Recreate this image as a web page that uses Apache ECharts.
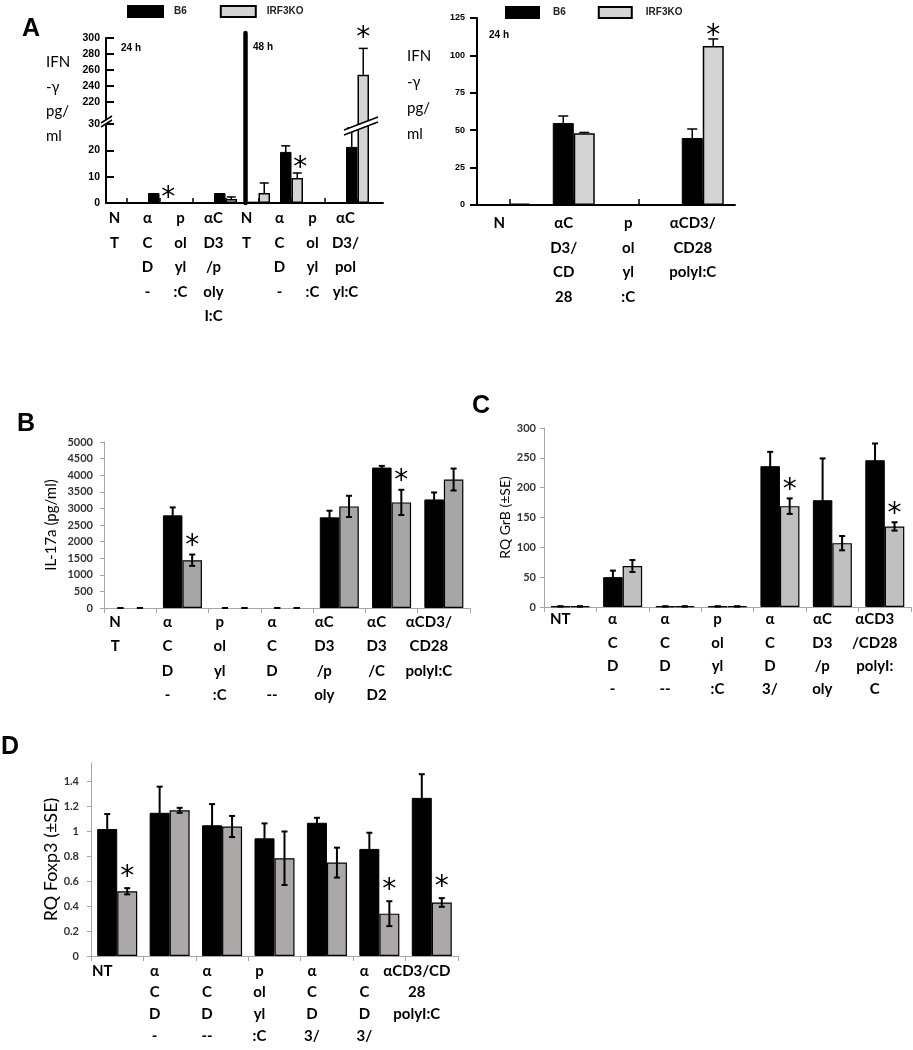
<!DOCTYPE html>
<html>
<head>
<meta charset="utf-8">
<script src="https://cdn.jsdelivr.net/npm/echarts@6.0.0/dist/echarts.min.js"></script>
<style>
  html, body { margin: 0; padding: 0; background: #fff; }
  #chart { width: 913px; height: 1050px; }
</style>
</head>
<body>
<div id="chart"></div>
<script>
// ---- A (left): IFN-γ, 24 h and 48 h ----
const catsA1 = ['N\nT', 'α\nC\nD\n-', 'p\nol\nyl\n:C', 'αC\nD3\n/p\noly\nI:C',
                'N\nT', 'α\nC\nD\n-', 'p\nol\nyl\n:C', 'αC\nD3/\npol\nyl:C'];
const a1B6 = [0, 3.8, 0, 3.8, 0.5, 19.4, 0, 21.3];
const a1B6Err = [0, 0, 0, 0, 0, 2.3, 0, 7.2];
const a1KO = [0, 0, 0, 1.5, 3.8, 9.5, 0, 254];
const a1KOErr = [0, 0, 0, 0.8, 3.8, 1.9, 0, 33];
const a1Star = [0, 1, 0, 0, 0, 1, 0, 1];
const a1LowTicks = [0, 10, 20, 30];
const a1HighTicks = [220, 240, 260, 280, 300];

// ---- A (right): IFN-γ, 24 h ----
const catsA2 = ['N', 'αC\nD3/\nCD\n28', 'p\nol\nyl\n:C', 'αCD3/\nCD28\npolyI:C'];
const a2B6 = [0.5, 54.8, 0, 44.8];
const a2B6Err = [0, 4.7, 0, 6];
const a2KO = [1, 48, 0, 106.3];
const a2KOErr = [0, 0.5, 0, 4.7];
const a2Star = [0, 0, 0, 1];

// ---- B: IL-17a ----
const catsB = ['N\nT', 'α\nC\nD\n-', 'p\nol\nyl\n:C', 'α\nC\nD\n--', 'αC\nD3\n/p\noly', 'αC\nD3\n/C\nD2', 'αCD3/\nCD28\npolyI:C'];
const bB6 = [0, 2790, 0, 0, 2730, 4230, 3270];
const bB6Err = [0, 240, 0, 0, 200, 50, 210];
const bKO = [0, 1440, 0, 0, 3060, 3180, 3870];
const bKOErr = [0, 170, 0, 0, 320, 380, 330];
const bStar = [0, 1, 0, 0, 0, 1, 0];

// ---- C: GrB ----
const catsC = ['NT', 'α\nC\nD\n-', 'α\nC\nD\n--', 'p\nol\nyl\n:C', 'α\nC\nD\n3/', 'αC\nD3\n/p\noly', 'αCD3\n/CD28\npolyI:\nC'];
const cB6 = [1, 50, 1, 1, 236, 179, 246];
const cB6Err = [0, 11, 0, 0, 24, 70, 28];
const cKO = [1, 68.7, 1, 1, 169, 107, 135];
const cKOErr = [0, 10, 0, 0, 13, 12, 7];
const cStar = [0, 0, 0, 0, 1, 0, 1];

// ---- D: Foxp3 ----
const catsD = ['NT', 'α\nC\nD\n-', 'α\nC\nD\n--', 'p\nol\nyl\n:C', 'α\nC\nD\n3/', 'α\nC\nD\n3/', 'αCD3/CD\n28\npolyI:C'];
const dB6 = [1.02, 1.15, 1.05, 0.945, 1.07, 0.86, 1.27];
const dB6Err = [0.12, 0.21, 0.17, 0.12, 0.04, 0.13, 0.19];
const dKO = [0.52, 1.17, 1.04, 0.785, 0.75, 0.34, 0.43];
const dKOErr = [0.025, 0.02, 0.085, 0.215, 0.12, 0.1, 0.035];
const dStar = [1, 0, 0, 0, 0, 1, 1];

const LABEL_FONT = 'Lato, "Noto Sans", sans-serif';
const ARIAL = '"Liberation Sans", Arial, sans-serif';
const A_SPLIT = 192.5; // bottom of the upper (broken) part of panel A

const chart = echarts.init(document.getElementById('chart'));

function bars(name, ax, vals, color, w, bw, keep) {
  return {
    name: name, type: 'bar', xAxisIndex: ax, yAxisIndex: ax,
    barWidth: w, barGap: '0%', clip: true, silent: true,
    data: vals.map(v => (keep ? keep(v) : v !== 0) ? v : '-'),
    itemStyle: { color: color, borderColor: '#000', borderWidth: bw }
  };
}

// error bars (and asterisks) drawn through the axes of grid `ax`
function errBars(ax, vals, errs, stars, o) {
  return {
    type: 'custom', xAxisIndex: ax, yAxisIndex: ax, z: 5, silent: true, clip: false,
    data: vals.map((v, i) => [i, v, errs[i], stars ? stars[i] : 0]),
    renderItem: function (params, api) {
      const i = api.value(0), v = api.value(1), e = api.value(2), s = api.value(3);
      if (o.show && !o.show(v, e)) return null;
      const x = api.coord([i, v])[0] + o.side * o.barW / 2;
      const yTop = api.coord([i, v + e])[1];
      const yBot = api.coord([i, o.both ? v - e : v])[1];
      const st = { stroke: '#000', lineWidth: o.lw };
      const kids = [];
      if (e > 0 || o.both) {
        kids.push({ type: 'line', shape: { x1: x, y1: yTop, x2: x, y2: yBot }, style: st });
        kids.push({ type: 'line', shape: { x1: x - o.cap / 2, y1: yTop, x2: x + o.cap / 2, y2: yTop }, style: st });
        if (o.both) kids.push({ type: 'line', shape: { x1: x - o.cap / 2, y1: yBot, x2: x + o.cap / 2, y2: yBot }, style: st });
      }
      if (s) {
        kids.push({ type: 'text', style: { text: '*', x: x + (o.starDx || 0), y: yTop - o.starGap, align: 'center',
          verticalAlign: 'middle', font: '28px "DejaVu Sans", sans-serif', fill: '#000' } });
      }
      return { type: 'group', children: kids };
    }
  };
}

function catAxis(gi, cats, o) {
  return {
    gridIndex: gi, type: 'category', data: cats, show: o.show !== false,
    axisLine: { show: !!o.lineColor, lineStyle: { color: o.lineColor, width: o.lineWidth || 1 } },
    axisTick: { show: !!o.tickLen, inside: !!o.tickInside, alignWithLabel: !!o.tickInside, length: o.tickLen,
      lineStyle: { color: o.tickColor || '#000', width: o.tickWidth || 1 } },
    axisLabel: { show: !!o.margin, interval: 0, margin: o.margin, lineHeight: o.lh, padding: [0, o.shift || 0, 0, 0],
      fontFamily: LABEL_FONT, fontSize: 15, fontWeight: 'bold', color: '#000' },
    splitLine: { show: false }
  };
}

const plain = v => String(+v.toFixed(2));
const aYLabel = { fontFamily: ARIAL, fontWeight: 'bold', fontSize: 10.5, color: '#000', formatter: plain };
const xlYLabel = { fontFamily: LABEL_FONT, fontWeight: 'bold', fontSize: 11, color: '#333', formatter: plain };
const grey = '#a6a6a6';

const grids = [
  { left: 110, top: 124, width: 264, height: 79 },   // 0 A left, lower part
  { left: 110, top: 38, width: 264, height: 86 },    // 1 A left, upper part
  { left: 106, top: 124, width: 277, height: 79 },   // 2 A left baseline
  { left: 245, top: 33, width: 10, height: 170 },    // 3 48 h axis
  { left: 477, top: 18, width: 258, height: 187 },   // 4 A right
  { left: 104, top: 442, width: 366, height: 166 },  // 5 B
  { left: 544, top: 428, width: 367, height: 179 },  // 6 C
  { left: 91, top: 763, width: 367, height: 193 }    // 7 D
].map(g => Object.assign({ outerBoundsMode: 'none', containLabel: false }, g));

const xAxes = [
  catAxis(0, catsA1, { tickLen: 5, tickInside: true, tickWidth: 1.5, margin: 3, lh: 24.5, shift: 24 }),
  catAxis(1, catsA1, { show: false }),
  catAxis(2, [''], { lineColor: '#000', lineWidth: 2 }),
  { gridIndex: 3, type: 'value', show: false },
  catAxis(4, catsA2, { lineColor: '#000', lineWidth: 2, tickLen: 6, tickInside: true, tickWidth: 1.5, margin: 6, lh: 24.5, shift: 20 }),
  catAxis(5, catsB, { lineColor: grey, tickLen: 5, tickColor: grey, margin: 2, lh: 24.3, shift: 30 }),
  catAxis(6, catsC, { lineColor: grey, tickLen: 5, tickColor: grey, margin: 1, lh: 23.3, shift: 20 }),
  catAxis(7, catsD, { lineColor: grey, tickLen: 5, tickColor: grey, margin: 4, lh: 21.7, shift: 30 })
];

const yAxes = [
  { gridIndex: 0, type: 'value', min: 0, max: 30, offset: 4,
    axisLine: { show: true, lineStyle: { color: '#000', width: 2 } },
    axisTick: { show: true, inside: true, length: 8, lineStyle: { width: 2, color: '#000' }, customValues: a1LowTicks },
    axisLabel: Object.assign({ margin: 6, customValues: a1LowTicks }, aYLabel), splitLine: { show: false } },
  { gridIndex: 1, type: 'value', min: A_SPLIT, max: 300, offset: 4,
    axisLine: { show: true, lineStyle: { color: '#000', width: 2 } },
    axisTick: { show: true, inside: true, length: 8, lineStyle: { width: 2, color: '#000' }, customValues: a1HighTicks },
    axisLabel: Object.assign({ margin: 6, customValues: a1HighTicks }, aYLabel), splitLine: { show: false } },
  { gridIndex: 2, type: 'value', show: false, min: 0, max: 30 },
  { gridIndex: 3, type: 'value', min: 0, max: 1,
    axisLine: { show: true, lineStyle: { color: '#000', width: 4.5 } },
    axisTick: { show: false }, axisLabel: { show: false }, splitLine: { show: false } },
  { gridIndex: 4, type: 'value', min: 0, max: 125, interval: 25,
    axisLine: { show: true, lineStyle: { color: '#000', width: 2 } },
    axisTick: { show: true, length: 7, lineStyle: { width: 2, color: '#000' } },
    axisLabel: Object.assign({ margin: 12 }, aYLabel, { fontSize: 9 }), splitLine: { show: false } },
  { gridIndex: 5, type: 'value', min: 0, max: 5000, interval: 500,
    name: 'IL-17a (pg/ml)', nameLocation: 'middle', nameRotate: 90, nameGap: 45,
    nameTextStyle: { fontFamily: LABEL_FONT, fontSize: 15, color: '#000' },
    axisLine: { show: true, lineStyle: { color: grey } },
    axisTick: { show: true, length: 4, lineStyle: { color: grey } },
    axisLabel: Object.assign({ margin: 11 }, xlYLabel), splitLine: { show: false } },
  { gridIndex: 6, type: 'value', min: 0, max: 300, interval: 50,
    name: 'RQ GrB (±SE)', nameLocation: 'middle', nameRotate: 90, nameGap: 32,
    nameTextStyle: { fontFamily: LABEL_FONT, fontSize: 14, color: '#000' },
    axisLine: { show: true, lineStyle: { color: grey } },
    axisTick: { show: true, length: 4, lineStyle: { color: grey } },
    axisLabel: Object.assign({ margin: 8 }, xlYLabel), splitLine: { show: false } },
  { gridIndex: 7, type: 'value', min: 0, max: 1.55, interval: 0.2,
    name: 'RQ Foxp3 (±SE)', nameLocation: 'middle', nameRotate: 90, nameGap: 25,
    nameTextStyle: { fontFamily: LABEL_FONT, fontSize: 18, color: '#000' },
    axisLine: { show: true, lineStyle: { color: grey } },
    axisTick: { show: true, length: 4, lineStyle: { color: grey } },
    axisLabel: Object.assign({ margin: 12, showMaxLabel: false }, xlYLabel),
    splitLine: { show: false } }
];

const koA = '#d4d4d4';
const lowShow = (v, e) => v + e <= 30;
const highShow = (v) => v >= A_SPLIT;
const aErr = { lw: 1.5, cap: 9, both: false, starGap: 4 };
const xlErr = { lw: 2, cap: 6, both: true, starGap: 8 };

const series = [
  // A left
  bars('B6', 0, a1B6, '#000', 11.5, 1),
  bars('IRF3KO', 0, a1KO, koA, 11.5, 1.5),
  bars('B6', 1, a1B6, '#000', 11.5, 1, v => v > A_SPLIT),
  bars('IRF3KO', 1, a1KO, koA, 11.5, 1.5, v => v > A_SPLIT),
  errBars(0, a1B6, a1B6Err, null, Object.assign({ side: -1, barW: 11.5, show: lowShow }, aErr)),
  errBars(0, a1KO, a1KOErr, a1Star, Object.assign({ side: 1, barW: 11.5, show: lowShow, starDx: 3 }, aErr)),
  errBars(1, a1B6, a1B6Err, null, Object.assign({ side: -1, barW: 11.5, show: highShow }, aErr)),
  errBars(1, a1KO, a1KOErr, a1Star, Object.assign({ side: 1, barW: 11.5, show: highShow }, aErr, { starGap: 10 })),
  // A right
  bars('B6', 4, a2B6, '#000', 21, 1),
  bars('IRF3KO', 4, a2KO, koA, 21, 1.5),
  errBars(4, a2B6, a2B6Err, null, Object.assign({ side: -1, barW: 21 }, aErr, { cap: 10 })),
  errBars(4, a2KO, a2KOErr, a2Star, Object.assign({ side: 1, barW: 21 }, aErr, { cap: 10, starGap: 2 })),
  // B
  bars('B6', 5, bB6, '#000', 19.5, 1),
  bars('IRF3KO', 5, bKO, '#a6a6a6', 19.5, 1.2),
  errBars(5, bB6, bB6Err, null, Object.assign({ side: -1, barW: 19.5 }, xlErr)),
  errBars(5, bKO, bKOErr, bStar, Object.assign({ side: 1, barW: 19.5 }, xlErr)),
  // C
  bars('B6', 6, cB6, '#000', 19.5, 1),
  bars('IRF3KO', 6, cKO, '#c0c0c0', 19.5, 1.2),
  errBars(6, cB6, cB6Err, null, Object.assign({ side: -1, barW: 19.5 }, xlErr)),
  errBars(6, cKO, cKOErr, cStar, Object.assign({ side: 1, barW: 19.5 }, xlErr)),
  // D
  bars('B6', 7, dB6, '#000', 20, 1),
  bars('IRF3KO', 7, dKO, '#aca8a8', 20, 1.2),
  errBars(7, dB6, dB6Err, null, Object.assign({ side: -1, barW: 20 }, xlErr)),
  errBars(7, dKO, dKOErr, dStar, Object.assign({ side: 1, barW: 20 }, xlErr, { starGap: 10 }))
];

const legendText = { fontFamily: ARIAL, fontWeight: 'bold', fontSize: 10, color: '#222' };
const legends = [
  { data: ['B6', 'IRF3KO'], left: 127, top: 5, padding: 0, itemWidth: 35, itemHeight: 11, itemGap: 33,
    icon: 'rect', selectedMode: false, textStyle: Object.assign({ padding: [0, 0, 0, 6] }, legendText) },
  { data: ['B6', 'IRF3KO'], left: 505, top: 6, padding: 0, itemWidth: 33, itemHeight: 11, itemGap: 32,
    icon: 'rect', selectedMode: false, textStyle: Object.assign({ padding: [0, 0, 0, 9] }, legendText) }
];

function txt(text, x, y, font, extra) {
  return { type: 'text', x: x, y: y, z: 100, silent: true,
    style: Object.assign({ text: text, font: font, fill: '#000', align: 'left', verticalAlign: 'middle' }, extra || {}) };
}
const letterFont = 'bold 25px "Liberation Sans", Arial, sans-serif';
const smallBold = 'bold 10px "Liberation Sans", Arial, sans-serif';
const titleFont = '15px Lato, "Noto Sans", sans-serif';

const graphics = [
  txt('A', 22, 29, letterFont),
  txt('B', 17, 424, letterFont),
  txt('C', 472, 406, letterFont),
  txt('D', 1, 747, letterFont),
  txt('24 h', 121, 48, smallBold),
  txt('48 h', 253, 47, smallBold),
  txt('24 h', 489, 35, smallBold),
  txt('IFN\n-γ\npg/\nml', 46, 50, titleFont, { verticalAlign: 'top', lineHeight: 24.5 }),
  txt('IFN\n-γ\npg/\nml', 407, 43, titleFont, { verticalAlign: 'top', lineHeight: 26 }),
  // axis break on the A left y axis
  { type: 'polygon', z: 100, silent: true, shape: { points: [[101, 123], [112, 116], [112, 120], [101, 127]] },
    style: { fill: '#fff', stroke: null } },
  { type: 'line', z: 101, silent: true, shape: { x1: 101, y1: 123, x2: 112, y2: 116 }, style: { stroke: '#000', lineWidth: 1.5 } },
  { type: 'line', z: 101, silent: true, shape: { x1: 101, y1: 127, x2: 112, y2: 120 }, style: { stroke: '#000', lineWidth: 1.5 } },
  // break marks across the 48 h αCD3/polyI:C bars
  { type: 'polygon', z: 100, silent: true, shape: { points: [[344, 130], [378, 117], [378, 122], [344, 135]] },
    style: { fill: '#fff', stroke: null } },
  { type: 'line', z: 101, silent: true, shape: { x1: 344, y1: 130, x2: 378, y2: 117 }, style: { stroke: '#000', lineWidth: 1.5 } },
  { type: 'line', z: 101, silent: true, shape: { x1: 344, y1: 135, x2: 378, y2: 122 }, style: { stroke: '#000', lineWidth: 1.5 } }
];

chart.setOption({
  animation: false,
  backgroundColor: '#fff',
  legend: legends,
  grid: grids,
  xAxis: xAxes,
  yAxis: yAxes,
  series: series,
  graphic: graphics
});
</script>
</body>
</html>
